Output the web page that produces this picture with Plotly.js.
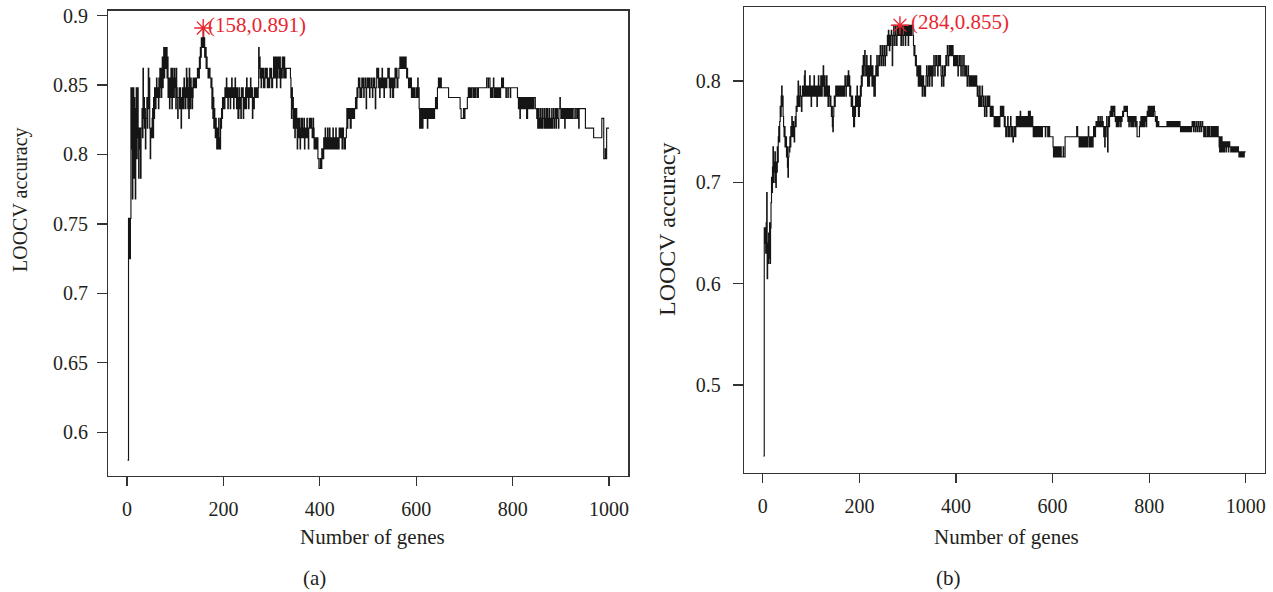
<!DOCTYPE html>
<html>
<head>
<meta charset="utf-8">
<script src="https://cdn.plot.ly/plotly-3.0.1.min.js"></script>
<style>html,body{margin:0;padding:0;background:#fff}#chart{width:1273px;height:592px}</style>
</head>
<body>
<div id="chart"></div>
<script>
// ---------- Panel (a): LOOCV accuracy vs number of genes (step breakpoints) ----------
const genesA = [1,3,4,5,6,7,8,9,10,11,12,13,14,15,16,17,18,19,20,21,22,23,24,25,27,28,29,31,32,33,34,35,36,37,38,39,41,42,43,44,45,46,47,48,49,50,52,53,54,55,56,57,58,60,61,62,63,65,66,67,68,69,70,71,72,73,74,75,76,77,78,79,80,81,82,83,84,85,86,87,88,89,90,91,92,93,94,95,96,97,98,99,100,101,102,103,104,105,106,108,109,110,111,112,113,114,115,116,118,119,120,121,122,123,124,125,126,127,128,129,130,131,132,133,134,135,136,137,138,140,142,144,146,148,150,151,152,153,154,155,156,157,158,159,160,161,162,164,165,166,168,170,172,174,175,176,177,178,179,180,181,182,183,184,185,186,187,188,189,190,191,192,194,195,196,197,198,199,200,201,203,205,206,207,208,209,210,211,212,214,215,216,217,218,220,221,222,223,224,225,226,227,228,229,230,232,233,235,236,237,238,240,241,242,244,246,247,248,249,250,252,253,254,256,257,258,260,261,263,264,266,268,270,272,273,274,275,276,277,278,279,280,282,283,284,285,286,288,290,291,292,294,296,297,299,300,302,304,305,306,307,308,309,310,311,312,313,314,315,316,317,318,319,320,322,323,324,325,326,327,328,330,339,340,341,342,343,344,345,346,347,348,349,350,351,352,353,354,355,356,357,358,359,360,361,362,363,364,366,367,368,369,370,372,373,374,375,376,377,378,380,382,383,384,386,387,388,390,392,394,396,398,401,402,404,406,408,410,411,412,413,415,416,417,418,420,421,422,424,425,427,428,430,431,433,434,435,437,438,440,442,444,446,448,449,451,453,455,456,457,458,460,462,463,465,466,468,470,472,474,476,477,478,479,480,481,482,483,485,486,487,488,490,491,492,494,495,496,497,498,500,502,503,504,506,507,509,510,511,512,514,515,516,518,519,520,522,523,524,525,527,528,529,530,531,533,534,535,536,538,539,541,542,543,544,545,546,547,549,550,551,553,555,556,557,559,560,562,564,566,568,570,571,573,575,576,577,578,579,580,581,582,584,586,587,589,590,592,594,595,597,600,601,603,604,605,606,607,608,609,610,611,612,613,614,615,617,618,620,621,622,623,624,625,626,628,630,632,634,636,638,640,642,644,646,647,648,649,651,652,667,691,693,698,700,701,706,708,709,711,713,715,718,720,722,724,727,729,746,749,750,753,754,756,757,759,760,761,762,764,765,767,769,771,773,775,777,778,780,781,786,787,790,791,795,796,810,812,813,815,816,817,818,819,821,822,824,826,828,829,831,832,834,835,837,838,840,842,844,847,850,851,852,853,854,855,857,858,859,860,861,862,863,865,866,867,868,869,870,871,872,873,875,876,877,878,879,881,882,883,885,886,887,889,890,891,893,895,896,898,899,900,901,903,904,906,907,908,909,911,912,914,916,918,920,922,924,927,930,933,935,937,938,951,968,985,989,992,993,995,1000];
const accA = [0.580,0.754,0.725,0.754,0.725,0.754,0.848,0.804,0.848,0.768,0.826,0.848,0.783,0.841,0.812,0.768,0.833,0.848,0.797,0.826,0.848,0.812,0.783,0.819,0.804,0.783,0.819,0.833,0.812,0.862,0.826,0.841,0.819,0.833,0.804,0.826,0.841,0.819,0.841,0.862,0.833,0.855,0.819,0.797,0.819,0.812,0.826,0.833,0.812,0.841,0.826,0.848,0.833,0.848,0.855,0.841,0.848,0.833,0.855,0.841,0.862,0.848,0.862,0.841,0.855,0.870,0.848,0.870,0.877,0.855,0.877,0.862,0.877,0.862,0.877,0.855,0.870,0.841,0.855,0.848,0.833,0.855,0.841,0.862,0.848,0.833,0.862,0.841,0.855,0.841,0.862,0.848,0.855,0.833,0.862,0.848,0.841,0.826,0.841,0.848,0.833,0.848,0.841,0.819,0.841,0.833,0.848,0.833,0.855,0.841,0.848,0.833,0.841,0.862,0.841,0.855,0.833,0.848,0.826,0.862,0.848,0.833,0.855,0.841,0.848,0.833,0.841,0.855,0.848,0.855,0.848,0.855,0.862,0.855,0.870,0.862,0.877,0.870,0.884,0.877,0.884,0.877,0.891,0.877,0.884,0.870,0.877,0.862,0.870,0.862,0.855,0.862,0.855,0.848,0.855,0.833,0.848,0.826,0.841,0.819,0.833,0.826,0.812,0.826,0.819,0.804,0.819,0.812,0.804,0.826,0.812,0.804,0.826,0.819,0.833,0.826,0.841,0.833,0.841,0.833,0.848,0.841,0.855,0.841,0.848,0.833,0.848,0.841,0.848,0.833,0.848,0.841,0.855,0.841,0.848,0.833,0.848,0.841,0.855,0.841,0.848,0.833,0.848,0.841,0.826,0.848,0.833,0.841,0.826,0.848,0.841,0.848,0.826,0.841,0.833,0.848,0.833,0.855,0.841,0.848,0.833,0.848,0.841,0.855,0.841,0.848,0.826,0.841,0.833,0.848,0.841,0.848,0.841,0.848,0.877,0.862,0.870,0.855,0.862,0.848,0.862,0.855,0.862,0.848,0.855,0.848,0.862,0.855,0.862,0.848,0.855,0.848,0.862,0.855,0.862,0.848,0.855,0.870,0.855,0.862,0.870,0.855,0.870,0.848,0.870,0.855,0.870,0.862,0.870,0.855,0.870,0.848,0.862,0.855,0.870,0.862,0.870,0.855,0.870,0.862,0.855,0.862,0.855,0.841,0.826,0.848,0.833,0.841,0.819,0.833,0.826,0.812,0.833,0.819,0.833,0.826,0.804,0.819,0.826,0.812,0.826,0.819,0.804,0.819,0.826,0.812,0.826,0.812,0.819,0.826,0.804,0.819,0.812,0.819,0.826,0.812,0.819,0.804,0.819,0.826,0.819,0.826,0.819,0.812,0.826,0.819,0.804,0.812,0.804,0.812,0.797,0.790,0.797,0.790,0.804,0.797,0.812,0.804,0.819,0.804,0.812,0.804,0.819,0.812,0.804,0.819,0.812,0.804,0.812,0.804,0.819,0.804,0.812,0.804,0.819,0.812,0.804,0.812,0.804,0.819,0.812,0.819,0.804,0.819,0.812,0.804,0.812,0.819,0.833,0.819,0.833,0.826,0.833,0.819,0.833,0.826,0.833,0.826,0.833,0.841,0.833,0.848,0.841,0.848,0.855,0.848,0.855,0.841,0.848,0.841,0.855,0.848,0.855,0.841,0.848,0.855,0.848,0.833,0.848,0.855,0.848,0.855,0.841,0.848,0.855,0.848,0.841,0.855,0.848,0.855,0.848,0.833,0.848,0.862,0.855,0.862,0.848,0.855,0.841,0.855,0.848,0.855,0.862,0.848,0.855,0.841,0.855,0.848,0.855,0.848,0.855,0.862,0.855,0.862,0.848,0.855,0.841,0.855,0.848,0.855,0.841,0.855,0.848,0.862,0.855,0.862,0.848,0.855,0.862,0.870,0.862,0.870,0.862,0.870,0.862,0.870,0.862,0.870,0.862,0.855,0.862,0.855,0.848,0.855,0.848,0.855,0.841,0.848,0.841,0.848,0.841,0.848,0.841,0.855,0.841,0.848,0.833,0.819,0.833,0.826,0.819,0.833,0.826,0.819,0.833,0.826,0.833,0.826,0.833,0.826,0.833,0.819,0.833,0.826,0.833,0.826,0.833,0.826,0.833,0.826,0.833,0.841,0.833,0.848,0.855,0.848,0.855,0.848,0.855,0.848,0.841,0.833,0.826,0.833,0.826,0.833,0.841,0.848,0.841,0.848,0.841,0.848,0.841,0.848,0.841,0.848,0.841,0.848,0.855,0.848,0.855,0.848,0.841,0.848,0.841,0.848,0.855,0.848,0.841,0.848,0.841,0.848,0.841,0.848,0.841,0.848,0.855,0.848,0.855,0.848,0.841,0.848,0.841,0.848,0.841,0.848,0.841,0.833,0.841,0.826,0.841,0.833,0.841,0.833,0.841,0.833,0.841,0.833,0.841,0.826,0.841,0.833,0.841,0.833,0.841,0.833,0.841,0.833,0.841,0.833,0.826,0.833,0.819,0.833,0.826,0.819,0.833,0.819,0.826,0.819,0.833,0.819,0.826,0.833,0.819,0.826,0.819,0.833,0.826,0.819,0.833,0.819,0.826,0.833,0.819,0.826,0.819,0.833,0.819,0.826,0.833,0.819,0.826,0.833,0.819,0.833,0.826,0.819,0.833,0.841,0.833,0.826,0.833,0.826,0.833,0.826,0.833,0.819,0.833,0.826,0.833,0.826,0.833,0.826,0.833,0.826,0.833,0.826,0.833,0.826,0.833,0.819,0.833,0.819,0.812,0.826,0.797,0.804,0.797,0.819,0.819];

// ---------- Panel (b) ----------
const genesB = [1,3,4,5,6,7,8,9,10,11,12,13,14,15,16,17,18,19,20,21,22,23,24,25,26,27,28,29,30,31,32,33,34,35,36,37,38,39,40,41,42,43,44,45,46,48,49,50,51,52,53,54,55,56,57,58,59,60,61,62,63,64,65,66,67,68,69,70,71,72,73,74,75,76,77,78,79,80,81,82,83,84,85,86,87,88,89,90,91,93,94,96,97,98,99,100,101,102,103,105,106,107,108,109,110,112,113,114,115,116,117,118,119,120,121,122,123,124,125,126,127,128,129,130,131,132,133,134,135,136,137,138,139,140,141,142,143,144,145,146,147,148,149,150,151,153,154,156,157,159,160,162,163,165,166,168,169,170,171,172,173,174,175,176,177,178,179,180,181,182,183,185,186,187,188,190,191,192,193,194,195,196,197,198,200,201,202,203,204,205,206,207,208,209,210,211,212,213,214,215,216,217,218,219,220,221,222,223,224,225,226,227,228,229,230,231,232,233,234,235,236,237,238,239,240,241,242,243,244,245,246,247,248,249,250,251,252,253,254,255,256,257,258,259,260,261,262,263,264,265,266,267,268,269,270,271,272,273,274,275,276,277,278,279,280,281,283,284,286,287,288,289,290,291,292,294,295,296,297,298,300,301,302,304,305,307,308,311,312,313,314,315,316,317,318,319,320,321,322,323,324,325,326,327,328,329,330,331,332,333,334,335,336,337,338,339,340,341,342,343,344,345,346,347,348,349,350,351,352,353,354,355,356,357,358,359,360,361,362,363,364,365,366,368,369,370,371,372,373,374,375,376,377,378,379,380,381,382,383,384,385,386,387,388,389,390,392,393,394,395,396,397,398,399,400,401,402,403,404,405,406,407,408,409,410,411,412,413,414,415,416,417,418,419,420,421,422,423,424,425,426,427,428,429,430,432,433,435,436,437,439,440,442,443,444,445,446,447,448,449,450,451,452,453,454,455,456,457,458,459,460,461,462,463,464,465,466,467,468,469,470,471,472,473,474,475,476,477,479,480,481,482,484,485,487,488,489,491,492,493,494,495,496,497,498,499,500,501,502,503,504,505,506,507,508,509,510,511,512,513,514,515,516,517,518,519,520,521,522,523,524,525,526,527,529,530,532,533,534,535,536,538,539,540,541,543,544,545,546,547,548,549,550,551,552,553,554,555,556,557,558,559,560,561,562,563,564,565,566,567,568,569,570,571,572,574,575,576,578,579,585,586,590,592,594,601,602,603,604,605,606,608,609,611,612,614,615,617,618,622,623,626,650,652,655,656,657,658,660,661,662,663,664,665,667,668,669,670,672,673,674,675,676,677,678,679,680,681,683,684,685,686,687,688,689,690,691,692,693,694,695,696,697,698,699,700,701,702,703,704,705,706,707,708,709,710,711,712,713,714,715,716,717,718,719,720,721,722,723,724,725,726,727,728,729,730,731,732,733,734,735,736,737,738,739,740,741,742,743,744,745,746,747,748,749,750,751,752,753,754,755,756,757,758,759,760,761,762,763,764,765,766,767,768,769,770,771,772,773,774,775,780,781,782,783,784,785,786,787,788,789,790,791,792,793,794,795,796,797,798,799,800,801,802,803,804,805,806,807,808,809,810,811,812,813,814,815,816,817,818,819,820,837,838,840,841,843,844,845,847,848,850,852,853,855,856,858,860,862,864,865,866,867,868,869,870,872,873,875,876,878,879,881,882,884,886,887,888,889,890,891,892,893,894,895,896,897,898,899,900,901,902,903,904,905,906,907,908,909,910,911,913,914,915,917,918,921,922,924,925,928,929,930,931,932,933,934,935,936,937,938,939,940,941,942,943,945,946,947,948,949,950,951,952,953,954,955,956,957,958,959,960,961,962,963,964,965,966,967,969,970,971,972,973,974,975,976,977,978,979,980,981,982,983,984,985,986,987,988,989,990,991,992,993,994,995,996,997,1000];
const accB = [0.430,0.655,0.640,0.655,0.630,0.660,0.690,0.605,0.640,0.620,0.650,0.625,0.660,0.620,0.655,0.680,0.705,0.690,0.715,0.735,0.700,0.720,0.710,0.730,0.700,0.695,0.720,0.710,0.735,0.720,0.745,0.755,0.740,0.760,0.775,0.765,0.785,0.795,0.775,0.785,0.765,0.755,0.745,0.755,0.735,0.745,0.725,0.735,0.715,0.705,0.725,0.735,0.730,0.745,0.735,0.755,0.745,0.765,0.755,0.745,0.760,0.755,0.740,0.755,0.765,0.755,0.775,0.770,0.785,0.775,0.800,0.785,0.775,0.785,0.795,0.785,0.775,0.770,0.785,0.795,0.785,0.795,0.785,0.805,0.810,0.785,0.795,0.785,0.795,0.785,0.795,0.785,0.805,0.785,0.795,0.775,0.795,0.785,0.795,0.785,0.805,0.785,0.795,0.785,0.795,0.775,0.795,0.785,0.805,0.795,0.785,0.795,0.785,0.805,0.795,0.785,0.805,0.795,0.815,0.795,0.785,0.805,0.795,0.785,0.795,0.805,0.785,0.795,0.775,0.785,0.795,0.785,0.775,0.785,0.775,0.765,0.775,0.755,0.750,0.765,0.775,0.785,0.775,0.785,0.795,0.785,0.795,0.785,0.795,0.785,0.795,0.785,0.795,0.785,0.795,0.785,0.795,0.805,0.795,0.785,0.795,0.805,0.795,0.805,0.810,0.795,0.805,0.785,0.795,0.785,0.775,0.785,0.765,0.775,0.755,0.775,0.765,0.785,0.775,0.785,0.795,0.775,0.785,0.765,0.785,0.775,0.795,0.785,0.805,0.795,0.815,0.805,0.825,0.805,0.815,0.830,0.815,0.805,0.815,0.825,0.805,0.795,0.815,0.805,0.795,0.815,0.805,0.825,0.815,0.805,0.795,0.815,0.805,0.795,0.785,0.805,0.785,0.805,0.815,0.805,0.825,0.815,0.805,0.815,0.825,0.815,0.825,0.835,0.825,0.815,0.825,0.835,0.825,0.815,0.825,0.835,0.825,0.815,0.825,0.835,0.825,0.835,0.845,0.835,0.850,0.845,0.830,0.845,0.835,0.845,0.850,0.845,0.815,0.835,0.845,0.855,0.845,0.835,0.845,0.855,0.845,0.835,0.845,0.855,0.845,0.855,0.845,0.855,0.835,0.845,0.855,0.845,0.835,0.845,0.855,0.845,0.835,0.855,0.845,0.855,0.845,0.835,0.855,0.845,0.855,0.845,0.855,0.845,0.835,0.825,0.835,0.825,0.815,0.825,0.815,0.805,0.815,0.805,0.795,0.815,0.805,0.795,0.815,0.805,0.795,0.805,0.785,0.795,0.805,0.795,0.785,0.795,0.785,0.795,0.805,0.815,0.805,0.795,0.805,0.815,0.805,0.795,0.815,0.805,0.815,0.805,0.795,0.815,0.805,0.815,0.825,0.815,0.805,0.815,0.825,0.815,0.825,0.815,0.805,0.815,0.825,0.815,0.825,0.815,0.805,0.795,0.805,0.815,0.805,0.795,0.805,0.815,0.805,0.815,0.825,0.815,0.825,0.835,0.825,0.815,0.825,0.835,0.825,0.835,0.825,0.835,0.825,0.835,0.825,0.815,0.825,0.815,0.825,0.815,0.825,0.815,0.825,0.815,0.805,0.815,0.825,0.815,0.825,0.815,0.805,0.815,0.825,0.815,0.805,0.815,0.825,0.815,0.805,0.815,0.805,0.815,0.805,0.795,0.805,0.815,0.805,0.795,0.805,0.795,0.805,0.795,0.805,0.795,0.805,0.795,0.805,0.795,0.805,0.795,0.785,0.795,0.785,0.775,0.785,0.795,0.775,0.785,0.775,0.785,0.795,0.785,0.775,0.785,0.775,0.765,0.775,0.785,0.775,0.765,0.775,0.785,0.775,0.785,0.775,0.785,0.775,0.765,0.775,0.765,0.775,0.765,0.775,0.765,0.755,0.765,0.755,0.765,0.755,0.765,0.755,0.765,0.755,0.765,0.775,0.765,0.775,0.765,0.775,0.765,0.775,0.765,0.755,0.765,0.755,0.745,0.755,0.745,0.755,0.765,0.755,0.745,0.755,0.745,0.755,0.765,0.755,0.745,0.755,0.745,0.740,0.745,0.755,0.745,0.755,0.745,0.755,0.765,0.755,0.765,0.755,0.765,0.755,0.770,0.765,0.755,0.765,0.755,0.765,0.755,0.765,0.755,0.765,0.755,0.765,0.755,0.765,0.755,0.770,0.765,0.755,0.770,0.765,0.755,0.765,0.755,0.765,0.755,0.745,0.755,0.745,0.755,0.745,0.755,0.745,0.755,0.745,0.755,0.745,0.755,0.745,0.755,0.745,0.755,0.745,0.755,0.745,0.755,0.745,0.755,0.745,0.735,0.725,0.735,0.725,0.735,0.725,0.735,0.725,0.735,0.725,0.735,0.725,0.735,0.725,0.735,0.725,0.745,0.755,0.745,0.735,0.745,0.735,0.745,0.735,0.745,0.735,0.745,0.735,0.745,0.735,0.745,0.735,0.745,0.735,0.745,0.755,0.745,0.735,0.745,0.735,0.745,0.735,0.745,0.735,0.745,0.755,0.745,0.755,0.745,0.755,0.760,0.755,0.760,0.755,0.765,0.755,0.760,0.755,0.765,0.755,0.760,0.755,0.765,0.755,0.760,0.755,0.745,0.755,0.735,0.755,0.745,0.755,0.765,0.755,0.730,0.755,0.765,0.755,0.765,0.770,0.765,0.775,0.770,0.765,0.775,0.770,0.775,0.765,0.775,0.765,0.760,0.765,0.755,0.765,0.760,0.755,0.765,0.755,0.765,0.760,0.765,0.755,0.765,0.760,0.765,0.770,0.765,0.770,0.775,0.770,0.775,0.770,0.775,0.770,0.775,0.765,0.760,0.765,0.755,0.765,0.760,0.765,0.755,0.765,0.760,0.755,0.765,0.755,0.765,0.760,0.765,0.755,0.765,0.755,0.760,0.745,0.755,0.760,0.755,0.765,0.760,0.755,0.765,0.755,0.765,0.760,0.755,0.765,0.760,0.765,0.755,0.765,0.770,0.765,0.775,0.770,0.765,0.775,0.770,0.765,0.775,0.765,0.770,0.775,0.765,0.770,0.775,0.770,0.765,0.760,0.765,0.755,0.765,0.760,0.755,0.760,0.755,0.760,0.755,0.760,0.755,0.760,0.755,0.760,0.755,0.760,0.755,0.760,0.755,0.760,0.755,0.760,0.755,0.760,0.755,0.750,0.755,0.750,0.755,0.750,0.755,0.750,0.755,0.750,0.755,0.750,0.755,0.750,0.755,0.750,0.755,0.750,0.755,0.760,0.755,0.760,0.750,0.755,0.760,0.755,0.750,0.755,0.760,0.755,0.750,0.755,0.760,0.755,0.750,0.755,0.760,0.755,0.750,0.755,0.760,0.755,0.745,0.755,0.745,0.755,0.745,0.755,0.745,0.755,0.745,0.755,0.745,0.755,0.745,0.755,0.745,0.755,0.745,0.755,0.745,0.755,0.745,0.755,0.745,0.755,0.745,0.735,0.730,0.745,0.735,0.730,0.745,0.740,0.730,0.740,0.735,0.730,0.740,0.735,0.740,0.730,0.735,0.740,0.735,0.740,0.730,0.735,0.740,0.735,0.730,0.735,0.730,0.735,0.730,0.735,0.730,0.735,0.730,0.735,0.730,0.735,0.730,0.735,0.730,0.735,0.730,0.725,0.730,0.725,0.730,0.725,0.730,0.725,0.730,0.725,0.730,0.725,0.730,0.730];

// best points marked in each panel
const bestA = {genes: 158, acc: 0.891};
const bestB = {genes: 284, acc: 0.855};
const xTicks = [0, 200, 400, 600, 800, 1000];
const yTicksA = [0.6, 0.65, 0.7, 0.75, 0.8, 0.85, 0.9];
const yTicksB = [0.5, 0.6, 0.7, 0.8];

const SERIF = '"Liberation Serif", "DejaVu Serif", serif';
const RED = '#e8262f';
const AX = '#333333';
const TXT = '#231f20';

function lineTrace(x, y, xa, ya) {
  return {x: x, y: y, xaxis: xa, yaxis: ya, type: 'scatter', mode: 'lines',
    line: {color: '#151515', width: 1.15, shape: 'hv'}, hoverinfo: 'skip', showlegend: false};
}
function starTrace(p, xa, ya) {
  return {x: [p.genes], y: [p.acc], xaxis: xa, yaxis: ya, type: 'scatter', mode: 'markers',
    marker: {symbol: 'asterisk-open', size: 15, color: RED, line: {color: RED, width: 1.4}},
    hoverinfo: 'skip', showlegend: false};
}

const data = [
  lineTrace(genesA, accA, 'x', 'y'),
  starTrace(bestA, 'x', 'y'),
  lineTrace(genesB, accB, 'x2', 'y2'),
  starTrace(bestB, 'x2', 'y2')
];

function xAxis(domain, anchor) {
  return {domain: domain, anchor: anchor, range: [-38.96, 1039.96], tickvals: xTicks,
    ticktext: xTicks.map(String), ticks: 'outside', ticklen: 9, tickwidth: 1.2, tickcolor: AX,
    ticklabelstandoff: 6,
    showline: true, mirror: true, linecolor: AX, linewidth: 1.2, showgrid: false, zeroline: false,
    tickfont: {family: SERIF, size: 20, color: TXT}, fixedrange: true};
}
function yAxis(domain, anchor, range, ticks, standoff) {
  return {domain: domain, anchor: anchor, range: range, tickvals: ticks,
    ticktext: ticks.map(String), ticks: 'outside', ticklen: 10, tickwidth: 1.2, tickcolor: AX,
    ticklabelstandoff: standoff,
    showline: true, mirror: true, linecolor: AX, linewidth: 1.2, showgrid: false, zeroline: false,
    tickfont: {family: SERIF, size: 20, color: TXT}, fixedrange: true};
}

const W = 1273, H = 592;
function px(x) { return x / W; }
function py(y) { return 1 - y / H; }

const layout = {
  width: W, height: H, margin: {l: 0, r: 0, t: 0, b: 0},
  paper_bgcolor: '#ffffff', plot_bgcolor: '#ffffff', showlegend: false,
  xaxis: xAxis([px(108.3), px(628.3)], 'y'),
  yaxis: yAxis([py(476), py(10.5)], 'x', [0.5686, 0.9036], yTicksA, 5),
  xaxis2: xAxis([px(744), px(1265)], 'y2'),
  yaxis2: yAxis([py(472.7), py(6.7)], 'x2', [0.4135, 0.8733], yTicksB, 8),
  annotations: [
    {xref: 'x', yref: 'y', x: bestA.genes, y: bestA.acc, text: '(' + bestA.genes + ',' + bestA.acc + ')',
     showarrow: false, xanchor: 'left', yanchor: 'middle', xshift: 3, yshift: 3,
     font: {family: SERIF, size: 21, color: RED}},
    {xref: 'x2', yref: 'y2', x: bestB.genes, y: bestB.acc, text: '(' + bestB.genes + ',' + bestB.acc + ')',
     showarrow: false, xanchor: 'left', yanchor: 'middle', xshift: 9, yshift: 3,
     font: {family: SERIF, size: 21, color: RED}},
    {xref: 'paper', yref: 'paper', x: px(20), y: py(200), text: 'LOOCV accuracy', textangle: -90,
     showarrow: false, xanchor: 'center', yanchor: 'middle', font: {family: SERIF, size: 20, color: TXT}},
    {xref: 'paper', yref: 'paper', x: px(667), y: py(230), text: 'LOOCV accuracy', textangle: -90,
     showarrow: false, xanchor: 'center', yanchor: 'middle', font: {family: SERIF, size: 24, color: TXT}},
    {xref: 'paper', yref: 'paper', x: px(372), y: py(537), text: 'Number of genes',
     showarrow: false, xanchor: 'center', yanchor: 'middle', font: {family: SERIF, size: 21, color: TXT}},
    {xref: 'paper', yref: 'paper', x: px(1006), y: py(537), text: 'Number of genes',
     showarrow: false, xanchor: 'center', yanchor: 'middle', font: {family: SERIF, size: 21, color: TXT}},
    {xref: 'paper', yref: 'paper', x: px(314), y: py(578), text: '(a)',
     showarrow: false, xanchor: 'center', yanchor: 'middle', font: {family: SERIF, size: 21, color: TXT}},
    {xref: 'paper', yref: 'paper', x: px(948), y: py(578), text: '(b)',
     showarrow: false, xanchor: 'center', yanchor: 'middle', font: {family: SERIF, size: 21, color: TXT}}
  ]
};

Plotly.newPlot('chart', data, layout, {displayModeBar: false, staticPlot: true});
</script>
</body>
</html>
